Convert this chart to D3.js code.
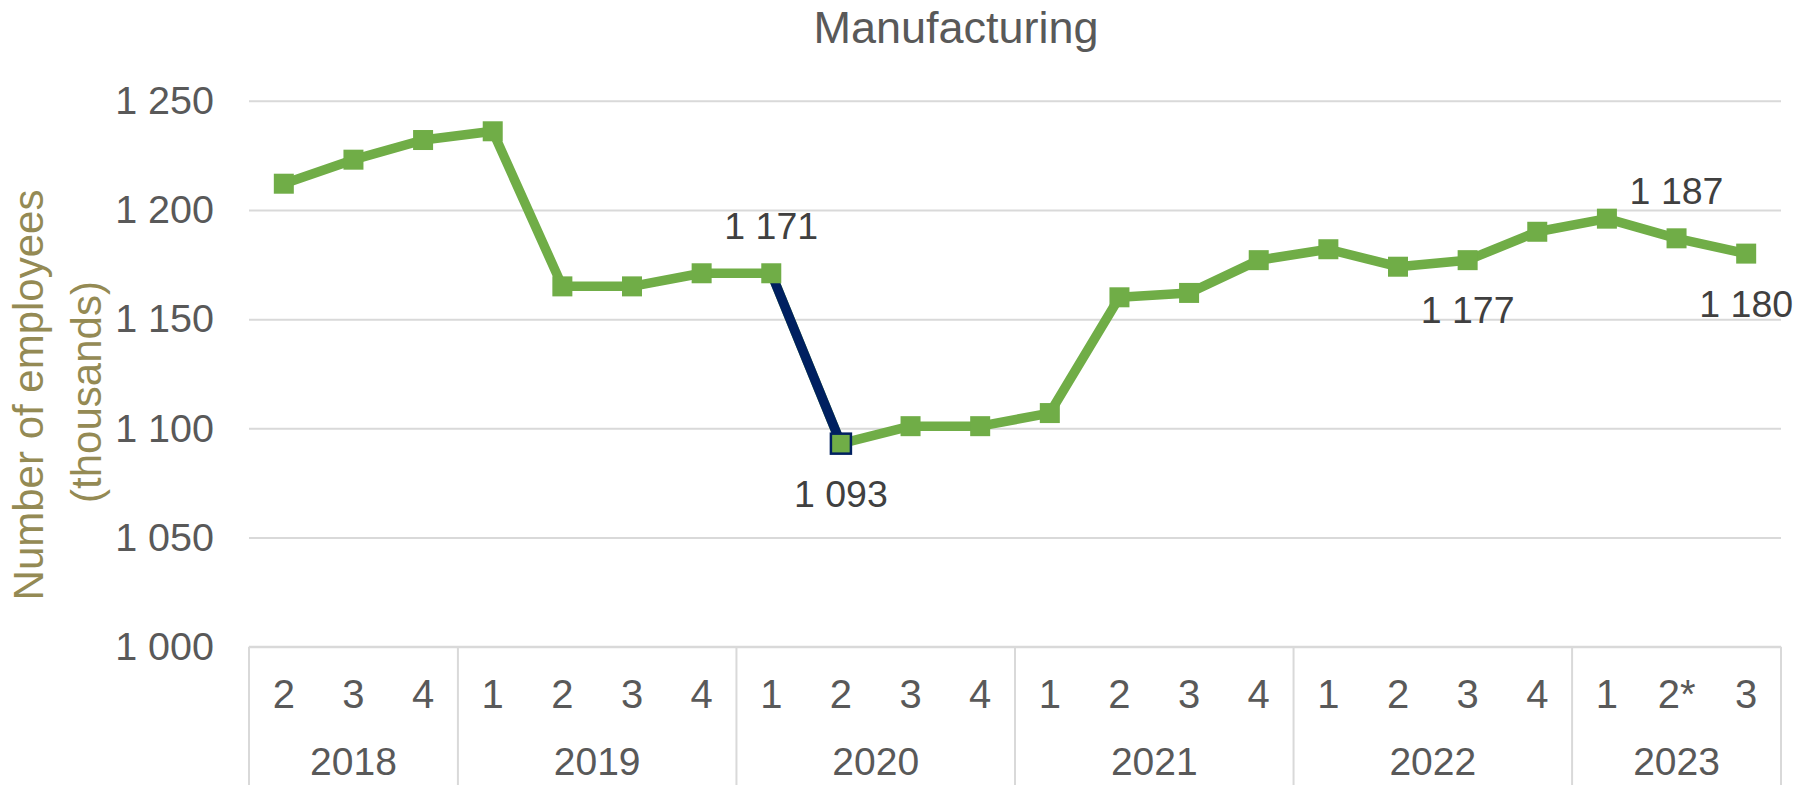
<!DOCTYPE html>
<html>
<head>
<meta charset="utf-8">
<script src="https://cdn.jsdelivr.net/npm/d3@7"></script>
<style>
  html, body { margin: 0; padding: 0; background: #ffffff; }
  svg { display: block; }
  text { font-family: "Liberation Sans", Arial, sans-serif; }
</style>
</head>
<body>
<svg id="chart" width="1814" height="785"></svg>
<script>
// ---- Data ----
const title = "Manufacturing";
const yTitleLines = ["Number of employees", "(thousands)"];
const years = ["2018", "2019", "2020", "2021", "2022", "2023"];
const quarters = [
  ["2", "3", "4"],
  ["1", "2", "3", "4"],
  ["1", "2", "3", "4"],
  ["1", "2", "3", "4"],
  ["1", "2", "3", "4"],
  ["1", "2*", "3"]
];
const values = [
  1212, 1223, 1232, 1236,
  1165, 1165, 1171,
  1171, 1093, 1101, 1101,
  1107, 1160, 1162, 1177,
  1182, 1174, 1177, 1190,
  1196, 1187, 1180
];
const yTicks = [1000, 1050, 1100, 1150, 1200, 1250];
// labelled points: index and placement
const labelIdx = [7, 8, 17, 20, 21];
const labelPos = ["above", "below", "below", "above", "below"];
// highlighted segment (from index to index)
const highlightFrom = [7];

// ---- Build categories ----
const cats = [];
years.forEach((y, yi) => quarters[yi].forEach(q => cats.push({year: y, q: q})));
const data = cats.map((c, i) => ({i: i, year: c.year, q: c.q, v: values[i]}));

// ---- Layout ----
const svg = d3.select("#chart");
const plotL = 249, plotR = 1781, plotT = 100.7, plotB = 646.8;
const x = d3.scaleBand().domain(d3.range(cats.length)).range([plotL, plotR]).paddingInner(0).paddingOuter(0);
const y = d3.scaleLinear().domain([1000, 1250]).range([plotB, plotT]);
const cx = i => x(i) + x.bandwidth() / 2;

const loc = d3.formatLocale({decimal: ".", thousands: "\u00a0", grouping: [3], currency: ["", ""]});
const fmt = v => loc.format(",")(v).replace(/\u00a0/g, " ");

const gridColor = "#d9d9d9";
const textColor = "#595959";
const green = "#70ad47";
const navy = "#002060";

// Title
svg.append("text")
  .attr("x", 956).attr("y", 43)
  .attr("text-anchor", "middle")
  .attr("font-size", 45)
  .attr("fill", textColor)
  .text(title);

// Y axis title
svg.append("text")
  .attr("transform", "translate(43,395) rotate(-90)")
  .attr("text-anchor", "middle")
  .attr("font-size", 42)
  .attr("fill", "#948a54")
  .text(yTitleLines[0]);
svg.append("text")
  .attr("transform", "translate(101,392) rotate(-90)")
  .attr("text-anchor", "middle")
  .attr("font-size", 42)
  .attr("fill", "#948a54")
  .text(yTitleLines[1]);

// Gridlines + y labels
const yAxis = d3.axisLeft(y).tickValues(yTicks).tickFormat(fmt).tickSize(-(plotR - plotL)).tickPadding(35);
const gy = svg.append("g").attr("transform", `translate(${plotL},0)`).call(yAxis);
gy.select(".domain").remove();
gy.selectAll(".tick line").attr("stroke", gridColor).attr("stroke-width", 2);
gy.selectAll(".tick text")
  .attr("font-size", 39.5)
  .attr("fill", textColor)
  .attr("font-family", "'Liberation Sans', Arial, sans-serif");

// X axis: quarter labels
const gx = svg.append("g").attr("transform", `translate(0,${plotB})`)
  .call(d3.axisBottom(x).tickFormat(i => cats[i].q).tickSize(0).tickPadding(0));
gx.select(".domain").remove();
gx.selectAll(".tick text")
  .attr("font-size", 40)
  .attr("fill", textColor)
  .attr("font-family", "'Liberation Sans', Arial, sans-serif")
  .attr("dy", null)
  .attr("y", 61);

// X axis line
svg.append("line")
  .attr("x1", plotL).attr("x2", plotR)
  .attr("y1", plotB).attr("y2", plotB)
  .attr("stroke", gridColor).attr("stroke-width", 2);

// Year separators and labels
let start = 0;
const bounds = [];
years.forEach((yr, yi) => {
  const n = quarters[yi].length;
  bounds.push({yr: yr, s: start, e: start + n - 1});
  start += n;
});
const sepX = [plotL].concat(bounds.map(b => x(b.e) + x.bandwidth()));
svg.selectAll("line.sep").data(sepX).enter().append("line")
  .attr("class", "sep")
  .attr("x1", d => d).attr("x2", d => d)
  .attr("y1", plotB).attr("y2", 785)
  .attr("stroke", gridColor).attr("stroke-width", 2);
svg.selectAll("text.year").data(bounds).enter().append("text")
  .attr("class", "year")
  .attr("x", b => (x(b.s) + x(b.e) + x.bandwidth()) / 2)
  .attr("y", 775)
  .attr("text-anchor", "middle")
  .attr("font-size", 39)
  .attr("fill", textColor)
  .text(b => b.yr);

// Line
const line = d3.line().x(d => cx(d.i)).y(d => y(d.v));
svg.append("path")
  .datum(data)
  .attr("d", line)
  .attr("fill", "none")
  .attr("stroke", green)
  .attr("stroke-width", 9.5)
  .attr("stroke-linejoin", "round");

// Highlighted segment
highlightFrom.forEach(h => {
  svg.append("path")
    .datum([data[h], data[h + 1]])
    .attr("d", line)
    .attr("fill", "none")
    .attr("stroke", navy)
    .attr("stroke-width", 9.5);
});

// Markers
const ms = 20;
svg.selectAll("rect.mk").data(data).enter().append("rect")
  .attr("class", "mk")
  .attr("x", d => cx(d.i) - ms / 2)
  .attr("y", d => y(d.v) - ms / 2)
  .attr("width", ms).attr("height", ms)
  .attr("fill", green)
  .attr("stroke", d => highlightFrom.map(h => h + 1).includes(d.i) ? navy : "none")
  .attr("stroke-width", 2.5);

// Data labels
const labels = labelIdx.map((li, k) => ({d: data[li], pos: labelPos[k]}));
svg.selectAll("text.dl").data(labels).enter().append("text")
  .attr("class", "dl")
  .attr("x", l => cx(l.d.i))
  .attr("y", l => l.pos === "above" ? y(l.d.v) - 34 : y(l.d.v) + 63)
  .attr("text-anchor", "middle")
  .attr("font-size", 37.5)
  .attr("fill", "#404040")
  .text(l => fmt(l.d.v));
</script>
</body>
</html>
